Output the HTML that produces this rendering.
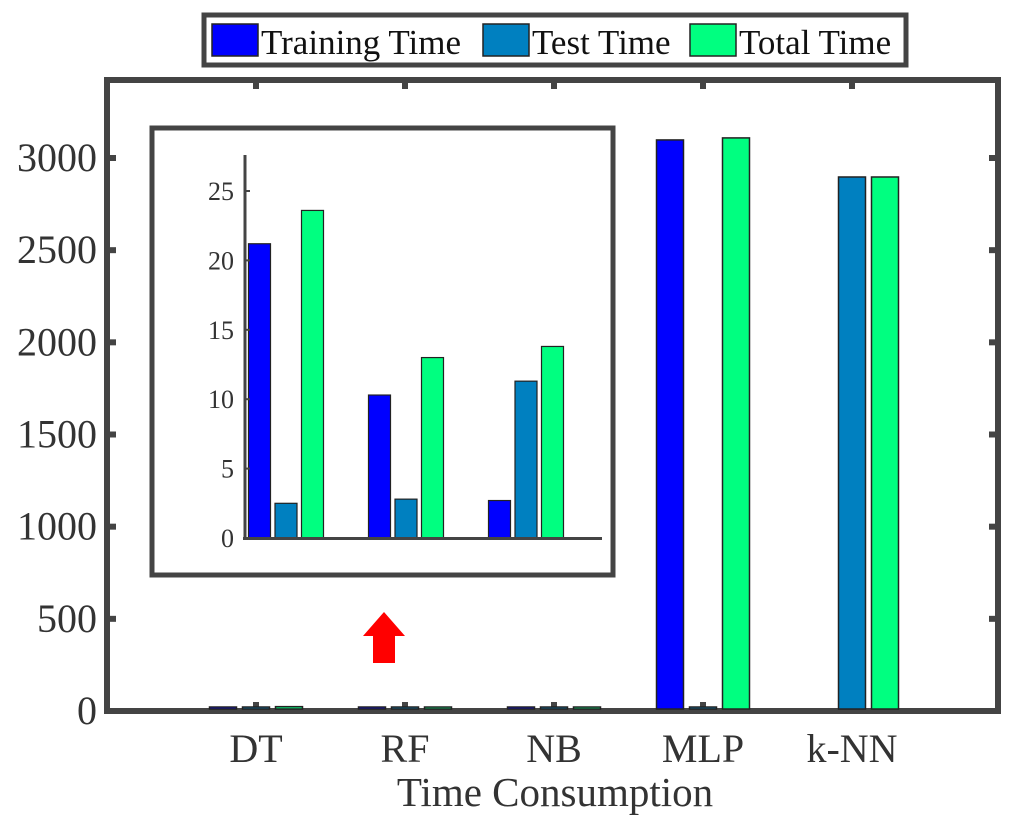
<!DOCTYPE html>
<html><head><meta charset="utf-8"><style>
body{margin:0;background:#fff;width:1024px;height:826px;overflow:hidden}
svg text{font-family:"Liberation Serif",serif;fill:#333}
</style></head><body>
<svg id="chart" width="1024" height="826" xmlns="http://www.w3.org/2000/svg">
<g id="main"></g><g id="inset"></g><g id="legend"></g>
</svg>
<script>
const categories=["DT","RF","NB","MLP","k-NN"];
const trainTime=[21.2,10.3,2.7,3098,0];
const testTime=[2.5,2.8,11.3,5,2897];
const totalTime=[23.6,13.0,13.8,3109,2897];
const yTicks=[0,500,1000,1500,2000,2500,3000];
const insetCategories=["DT","RF","NB"];
const insetTrain=[21.2,10.3,2.7];
const insetTest=[2.5,2.8,11.3];
const insetTotal=[23.6,13.0,13.8];
const insetTicks=[0,5,10,15,20,25];
const colors=["#0000ff","#0080c0","#00ff80"];
const NS="http://www.w3.org/2000/svg";
function mk(p,t,a){const e=document.createElementNS(NS,t);for(const k in a)e.setAttribute(k,a[k]);p.appendChild(e);return e;}
const main=document.getElementById('main');
const X0=107,X1=998,Y0=711,Y1=80;
const xm=i=>256+149*i;
const ym=v=>Y0-v*(711-158)/3000;
const series=[trainTime,testTime,totalTime];
const sn=["training","test","total"];
// axes box
const box=mk(main,'rect',{x:X0,y:Y1,width:X1-X0,height:Y0-Y1,fill:'none',stroke:'#444','stroke-width':6});

yTicks.forEach(v=>{
 mk(main,'line',{x1:X0,x2:X0+9,y1:ym(v),y2:ym(v),stroke:'#444','stroke-width':6});
 mk(main,'line',{x1:X1-9,x2:X1,y1:ym(v),y2:ym(v),stroke:'#444','stroke-width':6});
 const t=mk(main,'text',{x:X0-10,y:ym(v)+13,'text-anchor':'end','font-size':40});t.textContent=v;
 
});
categories.forEach((c,i)=>{
 mk(main,'line',{x1:xm(i),x2:xm(i),y1:Y0,y2:Y0-9,stroke:'#444','stroke-width':6});
 mk(main,'line',{x1:xm(i),x2:xm(i),y1:Y1,y2:Y1+9,stroke:'#444','stroke-width':6});
 const t=mk(main,'text',{x:xm(i),y:762,'text-anchor':'middle','font-size':40});t.textContent=c;
 
});
series.forEach((s,si)=>s.forEach((v,i)=>{
 if(v<=0)return;
 const cx=xm(i)+(si-1)*33;
 const top=Math.min(ym(v),707);
 const r=mk(main,'rect',{x:cx-13.5,y:top,width:27,height:709-top,fill:colors[si],stroke:'#222','stroke-width':1.5});
 
 
}));
const xt=mk(main,'text',{x:555,y:806,'text-anchor':'middle','font-size':41});xt.textContent='Time Consumption';

const ar=mk(main,'polygon',{points:'384,612 405,636 395,636 395,663 373,663 373,636 363,636',fill:'#ff0000'});

// inset
const ins=document.getElementById('inset');
const ib=mk(ins,'rect',{x:152,y:128,width:461,height:447,fill:'#fff',stroke:'#444','stroke-width':5});

const xi=i=>286+120*i;
const yi=v=>538-v*(538-191)/25;
[insetTrain,insetTest,insetTotal].forEach((s,si)=>s.forEach((v,i)=>{
 const cx=xi(i)+(si-1)*26.5;
 const r=mk(ins,'rect',{x:cx-11,y:yi(v),width:22,height:538-yi(v),fill:colors[si],stroke:'#222','stroke-width':1.2});
 
 
}));
mk(ins,'line',{x1:245,x2:245,y1:155,y2:540,stroke:'#444','stroke-width':3});
mk(ins,'line',{x1:243,x2:602,y1:538.5,y2:538.5,stroke:'#444','stroke-width':3});
insetTicks.forEach(v=>{
 mk(ins,'line',{x1:245,x2:250,y1:yi(v),y2:yi(v),stroke:'#444','stroke-width':2});
 const t=mk(ins,'text',{x:234,y:yi(v)+9,'text-anchor':'end','font-size':26});t.textContent=v;
 
});
// legend
const lg=document.getElementById('legend');
const lb=mk(lg,'rect',{x:204,y:15,width:702,height:50,fill:'#fff',stroke:'#444','stroke-width':5});

const lnames=["Training Time","Test Time","Total Time"],lx=[212,483,690];
lnames.forEach((n,i)=>{
 const r=mk(lg,'rect',{x:lx[i],y:24,width:46,height:32,fill:colors[i],stroke:'#222','stroke-width':1.5});
 
 const t=mk(lg,'text',{x:lx[i]+49,y:54,'font-size':35,style:'fill:#111'});t.textContent=n;
 
});
</script>
</body></html>
